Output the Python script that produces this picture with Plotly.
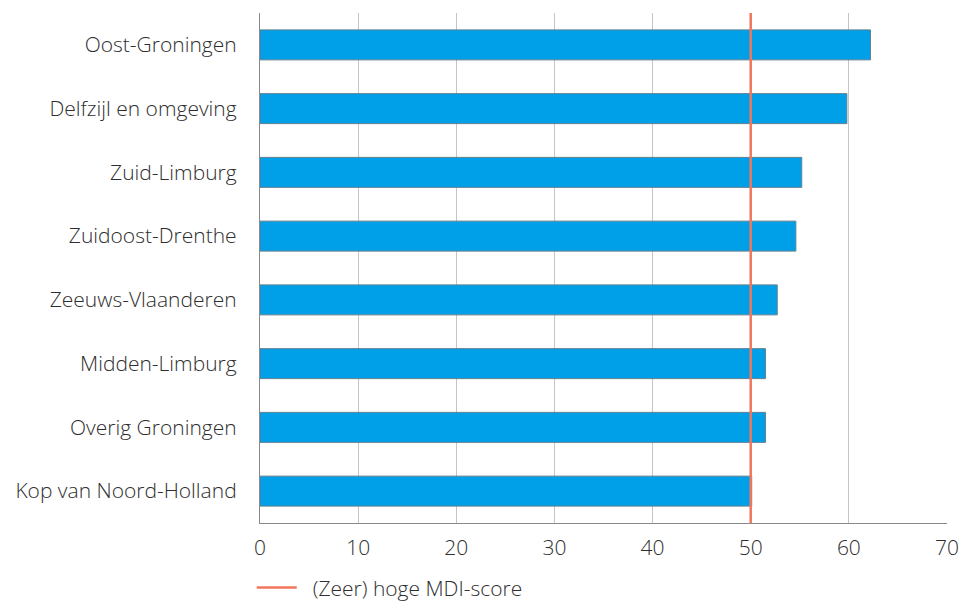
import plotly.graph_objects as go

regions = ["Oost-Groningen", "Delfzijl en omgeving", "Zuid-Limburg", "Zuidoost-Drenthe",
           "Zeeuws-Vlaanderen", "Midden-Limburg", "Overig Groningen", "Kop van Noord-Holland"]
scores = [62.2, 59.8, 55.2, 54.6, 52.7, 51.5, 51.5, 50.1]
threshold = 50
threshold_label = "(Zeer) hoge MDI-score"
x_ticks = [0, 10, 20, 30, 40, 50, 60, 70]

font_family = "'Open Sans', Lato, sans-serif"
text_color = "#2e2e2e"

fig = go.Figure()
fig.add_trace(go.Bar(
    y=regions, x=scores, orientation="h",
    marker=dict(color="#00A0E9", line=dict(color="#5f7f8f", width=1)),
    width=0.47, showlegend=False, hoverinfo="x+y",
))
fig.add_shape(type="line", x0=threshold, x1=threshold, y0=0, y1=1, yref="paper", xref="x",
              line=dict(color="#F2765C", width=2.5), layer="above",
              showlegend=True, name="\u00a0\u00a0" + threshold_label)

fig.update_layout(
    width=962, height=603,
    margin=dict(l=260, r=15, t=13, b=80, autoexpand=False),
    plot_bgcolor="white", paper_bgcolor="white",
    font=dict(family=font_family, size=21, color=text_color, weight=300),
    bargap=0.53,
    legend=dict(orientation="h", x=-0.012, xanchor="left", y=-0.087, yanchor="top",
                font=dict(size=21, color=text_color, weight=300), itemwidth=40),
    xaxis=dict(range=[0, 70], tickvals=x_ticks, showgrid=True, gridcolor="#c4c4c4",
               gridwidth=1.3, zeroline=False, showline=True, linecolor="#8a8a8a",
               linewidth=1.3, ticks="", ticklabelstandoff=6),
    yaxis=dict(categoryorder="array", categoryarray=regions[::-1], showline=True,
               linecolor="#8a8a8a", linewidth=1.3, ticks="", ticklabelstandoff=18,
               showgrid=False),
)
fig.write_html("out.html", config={"displayModeBar": False},
               post_script="document.body.style.margin='0';")
